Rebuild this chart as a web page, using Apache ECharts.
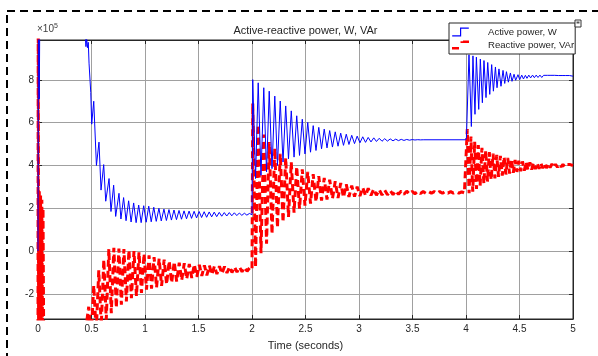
<!DOCTYPE html>
<html><head><meta charset="utf-8">
<script src="https://cdn.jsdelivr.net/npm/echarts@6/dist/echarts.min.js"></script>
<style>html,body{margin:0;padding:0;background:#fff;}#c{width:598px;height:356px;}</style>
</head><body><div id="c"></div>
<script>
// ---- data (values in units of 1e5) ----
const titleText = 'Active-reactive power, W, VAr';
const xName = 'Time (seconds)';
const seriesNames = ['Active power, W', 'Reactive power, VAr'];
const yTickValues = [-2, 0, 2, 4, 6, 8];

const blueStart = [[0,0],[0.004,12.5],[0.012,7.1],[0.018,12.0],[0.03,11.5],[0.1,12.5],[0.3,11.8],[0.42,10.6],[0.44,10.2]];
const blueDrop = [[0.448,9.55],[0.455,9.95],[0.462,9.5],[0.47,9.75],[0.477,8.78],[0.493,7.41],[0.502,5.93],[0.521,7.0],[0.546,4.0],[0.570,5.09],[0.589,2.85],[0.614,4.04],[0.633,2.33],[0.664,3.39],[0.682,1.85],[0.707,3.08],[0.726,1.62],[0.757,2.70],[0.775,1.50]];
const blueSettle = [[0.800,2.50],[0.823,1.42],[0.847,2.35],[0.870,1.36],[0.894,2.25],[0.917,1.33],[0.941,2.15],[0.964,1.33],[0.988,2.12],[1.011,1.35],[1.035,2.10],[1.058,1.37],[1.082,2.05],[1.105,1.39],[1.130,2.00],[1.152,1.41],[1.177,1.96],[1.200,1.43],[1.224,1.94],[1.247,1.45],[1.271,1.92],[1.294,1.47],[1.318,1.90],[1.341,1.49],[1.365,1.88],[1.388,1.51],[1.412,1.87],[1.435,1.53],[1.459,1.86],[1.482,1.55],[1.506,1.85],[1.529,1.57],[1.553,1.84],[1.576,1.58],[1.600,1.83],[1.623,1.60],[1.647,1.82],[1.670,1.61],[1.694,1.81],[1.717,1.63],[1.741,1.80],[1.764,1.64],[1.788,1.80],[1.811,1.65],[1.835,1.79],[1.858,1.66],[1.882,1.78],[1.905,1.67],[1.929,1.77],[1.952,1.68],[1.976,1.76],[2.000,1.70]];
const blueStep2 = [[2.003,1.70],[2.007,8.01],[2.033,3.39],[2.058,7.86],[2.084,3.54],[2.110,7.63],[2.136,3.70],[2.161,7.47],[2.187,3.85],[2.213,7.24],[2.238,4.00],[2.264,7.01],[2.290,4.16],[2.315,6.78],[2.341,4.31],[2.367,6.55],[2.393,4.39],[2.418,6.32],[2.444,4.47],[2.470,6.16],[2.495,4.54],[2.521,6.01],[2.547,4.62],[2.572,5.86],[2.598,4.70],[2.624,5.78],[2.650,4.78],[2.675,5.70],[2.701,4.82],[2.726,5.63],[2.752,4.86],[2.778,5.57],[2.804,4.90],[2.829,5.51],[2.855,4.94],[2.881,5.46],[2.906,4.98],[2.932,5.41],[2.958,5.02],[2.983,5.37],[3.009,5.06],[3.035,5.34],[3.061,5.08],[3.086,5.31],[3.112,5.10],[3.138,5.29],[3.163,5.12],[3.189,5.27],[3.215,5.13],[3.240,5.25],[3.266,5.14],[3.292,5.24],[3.318,5.15],[3.343,5.23],[3.369,5.16],[3.395,5.22],[3.420,5.17],[3.446,5.215],[3.472,5.18],[3.497,5.21],[3.523,5.19],[3.549,5.205],[3.574,5.195],[3.600,5.20],[3.997,5.20]];
const blueStep3 = [[4.004,5.3],[4.028,9.17],[4.050,5.82],[4.065,9.12],[4.084,6.39],[4.097,9.06],[4.119,6.62],[4.134,8.97],[4.153,6.93],[4.168,8.90],[4.187,7.17],[4.203,8.81],[4.222,7.32],[4.240,8.71],[4.256,7.47],[4.275,8.60],[4.290,7.63],[4.308,8.51],[4.327,7.70],[4.346,8.44],[4.362,7.83],[4.378,8.38],[4.396,7.89],[4.415,8.32],[4.430,7.93],[4.449,8.26],[4.464,7.98],[4.486,8.24],[4.502,8.01],[4.521,8.22],[4.537,8.04],[4.555,8.21],[4.570,8.07],[4.587,8.22],[4.604,8.09],[4.622,8.22],[4.639,8.10],[4.656,8.22],[4.673,8.11],[4.691,8.22],[4.708,8.11],[4.725,8.21],[4.742,8.12],[4.760,8.21],[4.777,8.12],[4.794,8.21],[4.811,8.12],[4.829,8.21],[4.846,8.12],[4.863,8.20],[4.880,8.12],[4.898,8.20],[4.915,8.13],[4.932,8.20],[4.949,8.13],[4.967,8.20],[4.984,8.13],[5.0,8.17]];

const redStart = [[0,-3.5],[0.002,12],[0.006,-3.6],[0.012,2.8],[0.018,-3.6],[0.024,2.6],[0.030,-3.6],[0.036,2.4],[0.042,-3.6],[0.047,2.0],[0.053,-4.0],[0.1,-5.0],[0.3,-4.8],[0.43,-4.0]];
const redStep1 = [[0.450,-3.5],[0.474,-2.6],[0.497,-4.0],[0.521,-1.6],[0.544,-3.8],[0.568,-0.9],[0.591,-3.5],[0.615,-0.4],[0.638,-3.2],[0.662,0.1],[0.685,-2.9],[0.709,0.15],[0.732,-2.65],[0.756,0.12],[0.779,-2.5],[0.803,0.1],[0.826,-2.35],[0.850,0.05],[0.873,-2.2],[0.897,0.0],[0.920,-2.1],[0.944,-0.05],[0.967,-1.95],[0.991,-0.12],[1.014,-1.8],[1.038,-0.2],[1.061,-1.75],[1.085,-0.28],[1.108,-1.7],[1.132,-0.35],[1.155,-1.62],[1.179,-0.4],[1.202,-1.55],[1.226,-0.46],[1.249,-1.48],[1.273,-0.5],[1.296,-1.42],[1.320,-0.54],[1.343,-1.36],[1.367,-0.57],[1.390,-1.3],[1.414,-0.6],[1.437,-1.25],[1.461,-0.62],[1.484,-1.2],[1.508,-0.64],[1.531,-1.16],[1.555,-0.66],[1.578,-1.13],[1.602,-0.68],[1.625,-1.1],[1.649,-0.7],[1.672,-1.07],[1.696,-0.71],[1.719,-1.05],[1.743,-0.72],[1.766,-1.02],[1.790,-0.73],[1.813,-1.0],[1.837,-0.74],[1.860,-0.98],[1.884,-0.75],[1.907,-0.96],[1.931,-0.76],[1.954,-0.94],[1.978,-0.78],[2.000,-0.85]];
const redStep2 = [[2.007,6.9],[2.033,-0.75],[2.058,5.9],[2.084,-0.1],[2.110,5.45],[2.136,0.35],[2.161,5.1],[2.187,0.8],[2.213,4.8],[2.238,1.1],[2.264,4.55],[2.290,1.35],[2.315,4.35],[2.341,1.6],[2.367,4.15],[2.393,1.8],[2.418,3.95],[2.444,1.98],[2.470,3.82],[2.495,2.12],[2.521,3.7],[2.547,2.22],[2.572,3.6],[2.598,2.3],[2.624,3.5],[2.650,2.36],[2.675,3.42],[2.701,2.41],[2.726,3.34],[2.752,2.45],[2.778,3.26],[2.804,2.48],[2.829,3.18],[2.855,2.51],[2.881,3.12],[2.906,2.53],[2.932,3.06],[2.958,2.55],[2.983,3.01],[3.009,2.57],[3.035,2.97],[3.061,2.59],[3.086,2.93],[3.112,2.6],[3.138,2.9],[3.163,2.61],[3.189,2.87],[3.215,2.62],[3.240,2.85],[3.266,2.63],[3.292,2.83],[3.318,2.64],[3.343,2.82],[3.369,2.65],[3.395,2.81],[3.420,2.66],[3.446,2.8],[3.472,2.67],[3.497,2.79],[3.523,2.68],[3.549,2.79],[3.574,2.69],[3.600,2.78],[3.626,2.7],[3.651,2.78],[3.677,2.7],[3.703,2.78],[3.728,2.7],[3.754,2.78],[3.780,2.7],[3.805,2.78],[3.831,2.71],[3.857,2.78],[3.882,2.71],[3.908,2.77],[3.934,2.71],[3.959,2.77],[3.985,2.72],[4.0,2.72]];
const redStep3 = [[4.012,5.7],[4.029,2.7],[4.046,5.35],[4.063,2.78],[4.081,5.1],[4.098,2.9],[4.115,4.95],[4.132,3.05],[4.149,4.82],[4.167,3.15],[4.184,4.7],[4.201,3.25],[4.218,4.62],[4.235,3.33],[4.253,4.55],[4.270,3.4],[4.287,4.5],[4.304,3.47],[4.321,4.45],[4.339,3.53],[4.356,4.4],[4.373,3.58],[4.390,4.35],[4.407,3.62],[4.425,4.3],[4.442,3.66],[4.459,4.26],[4.476,3.7],[4.493,4.22],[4.511,3.73],[4.528,4.19],[4.545,3.76],[4.562,4.17],[4.579,3.79],[4.597,4.15],[4.614,3.81],[4.631,4.13],[4.648,3.83],[4.665,4.11],[4.683,3.85],[4.700,4.1],[4.717,3.87],[4.734,4.09],[4.751,3.88],[4.769,4.08],[4.786,3.9],[4.803,4.07],[4.820,3.91],[4.837,4.06],[4.855,3.92],[4.872,4.05],[4.889,3.93],[4.906,4.05],[4.923,3.94],[4.941,4.04],[4.958,3.95],[4.975,4.04],[4.992,3.96],[5.000,4.0]];

// ---- chart ----
const blueData = [].concat(blueStart, blueDrop, blueSettle, blueStep2, blueStep3);
const redData = [].concat(redStart, redStep1, redStep2, redStep3);

const FONT = '"Liberation Sans", Arial, Helvetica, sans-serif';
const AX = '#262626';
const GRID = '#a0a0a0';
const blueIcon = 'path://M0,8 L8,8 L8,0 L17,0 L17,1.2 L9.2,1.2 L9.2,9.2 L0,9.2 Z';
const redIcon = 'path://M0,6.6 L7,6.6 L7,9 L0,9 Z M8.5,0.8 L11,0.8 L11,0 L17,0 L17,2.4 L8.5,2.4 Z';

const chart = echarts.init(document.getElementById('c'));
const xBase = {type:'value', min:0, max:5, interval:0.5};
const yBase = {type:'value', min:-3.17, max:9.86};
chart.setOption({
  animation:false,
  backgroundColor:'#fff',
  grid:{left:38, right:25, top:40, bottom:34, show:true, borderColor:AX, borderWidth:1, backgroundColor:'#fff'},
  legend:{
    orient:'vertical', left:449, top:23, padding:[4,1,4,3], itemGap:3, itemWidth:17, itemHeight:9,
    backgroundColor:'#fff', borderColor:AX, borderWidth:1, borderRadius:0,
    itemStyle:{borderWidth:0},
    textStyle:{fontSize:9.6, fontFamily:FONT, color:AX, padding:[0,0,0,14]},
    data:[{name:seriesNames[0], icon:blueIcon},{name:seriesNames[1], icon:redIcon}]
  },
  xAxis:[
    Object.assign({}, xBase, {position:'bottom',
      axisLine:{show:true, onZero:false, lineStyle:{color:AX}},
      axisTick:{inside:true, length:4, lineStyle:{color:AX}},
      axisLabel:{color:AX, fontSize:10, fontFamily:FONT, margin:5},
      splitLine:{show:true, lineStyle:{color:GRID, width:1}},
      name:xName, nameLocation:'middle', nameGap:21,
      nameTextStyle:{fontSize:11, color:AX, fontFamily:FONT}}),
    Object.assign({}, xBase, {position:'top',
      axisLine:{show:true, onZero:false, lineStyle:{color:AX}},
      axisTick:{inside:true, length:4, lineStyle:{color:AX}},
      axisLabel:{show:false}, splitLine:{show:false}})
  ],
  yAxis:[
    Object.assign({}, yBase, {position:'left',
      axisLine:{show:true, onZero:false, lineStyle:{color:AX}},
      axisTick:{inside:true, length:4, lineStyle:{color:AX}, customValues:yTickValues},
      axisLabel:{color:AX, fontSize:10, fontFamily:FONT, margin:4, customValues:yTickValues},
      splitLine:{show:true, lineStyle:{color:GRID, width:1}}}),
    Object.assign({}, yBase, {position:'right',
      axisLine:{show:true, onZero:false, lineStyle:{color:AX}},
      axisTick:{inside:true, length:4, lineStyle:{color:AX}, customValues:yTickValues},
      axisLabel:{show:false, customValues:yTickValues}, splitLine:{show:false}})
  ],
  series:[
    {name:seriesNames[0], type:'line', data:blueData, showSymbol:false, symbol:'none', clip:true,
     lineStyle:{color:'#0000ff', width:1}, itemStyle:{color:'#0000ff'}, z:3},
    {name:seriesNames[1], type:'line', data:redData, showSymbol:false, symbol:'none', clip:true,
     lineStyle:{color:'#ff0000', width:3, type:[7,4]}, itemStyle:{color:'#ff0000'}, z:2}
  ],
  graphic:[
    {type:'rect', shape:{x:7, y:11, width:620, height:400}, style:{fill:null, stroke:'#000', lineWidth:2, lineDash:[8,5]}, silent:true, z:0},
    {type:'text', x:305.5, y:31, style:{text:titleText, fontSize:11, fontFamily:FONT, fill:AX, align:'center', verticalAlign:'middle'}},
    {type:'text', x:37, y:36, style:{text:'×10{s|5}', fontSize:10, fontFamily:FONT, fill:'#404040', align:'left', verticalAlign:'bottom',
      rich:{s:{fontSize:7, fontFamily:FONT, fill:'#404040', verticalAlign:'top', padding:[0,0,6,0]}}}},
    {type:'rect', shape:{x:575, y:20, width:6, height:7}, style:{fill:'#fff', stroke:'#333', lineWidth:1}, z:100},
    {type:'rect', shape:{x:576.5, y:21.5, width:3, height:2}, style:{fill:'#555'}, z:101}
  ]
});
</script></body></html>
